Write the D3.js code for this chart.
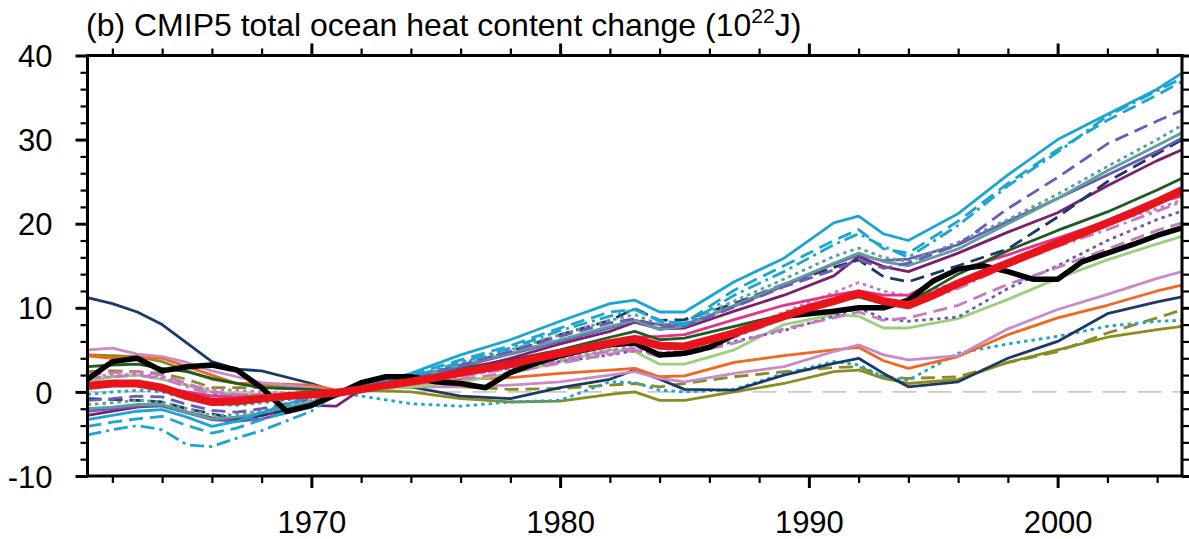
<!DOCTYPE html>
<html><head><meta charset="utf-8">
<script src="https://cdn.jsdelivr.net/npm/d3@7"></script>
<style>body{margin:0;background:#fff}svg{display:block}text{font-family:"Liberation Sans",Arial,Helvetica,sans-serif}</style>
</head><body><svg id="c" width="1189" height="539"></svg>
<script>
// ---------- data ----------
const titleText = "(b) CMIP5 total ocean heat content change (10";
const titleSup = "22";
const titleEnd = "J)";
const xMajorTicks = [1970, 1980, 1990, 2000];
const yMajorTicks = [-10, 0, 10, 20, 30, 40];

const modelYears = [1961,1962,1963,1964,1965,1966,1967,1968,1970,1971,1972,1974,1976,1978,1980,1982,1983,1984,1985,1987,1989,1991,1992,1993,1994,1996,1998,2000,2002,2004,2005];

const oliveSolid  = [4.4,4.3,4.2,3.6,2.5,1.5,1.0,0.8,0.5,0.0, 0.2,0.0,-0.8,-1.2,-1.1,-0.3,0.0,-1.0,-1.0,0.0,1.0,2.4,2.6,1.6,1.0,1.5,3.5,5.0,6.5,7.4,7.8];
const oliveDash   = [2.4,2.5,2.4,2.2,1.5,0.5,0.5,0.5,0.3,0.0, 0.3,1.0,0.6,0.3,0.4,0.8,1.0,0.6,1.0,1.8,2.4,2.9,3.0,1.8,1.6,1.8,3.5,4.8,7.0,8.8,9.75];
const cyanDot     = [-0.3,0.0,0.2,0.0,-0.8,-1.5,-1.6,-1.3,-0.6,0.0, -0.5,-1.4,-1.7,-1.2,-1.0,1.2,1.1,0.2,0.0,0.3,2.2,3.6,3.2,1.8,1.4,4.6,5.7,6.6,7.8,8.4,8.5];
const navySolid   = [11.2,10.5,9.5,8.0,5.8,3.6,2.7,2.5,1.0,0.0, 0.5,0.6,-0.5,-0.8,0.5,1.5,2.6,1.5,0.3,0.2,2.0,3.4,4.0,2.2,0.6,1.2,4.0,6.0,9.3,10.7,11.3];
const orange      = [4.3,4.0,4.1,4.0,3.0,2.0,1.0,1.0,0.8,0.2, 0.2,0.8,1.5,1.7,2.2,2.6,2.8,1.8,1.9,3.5,4.3,5.0,5.3,3.7,2.8,4.2,6.8,8.8,10.3,12.0,12.7];
const orchid      = [5.0,5.2,4.5,4.2,3.5,2.5,1.8,1.1,0.5,0.0, 0.2,0.6,0.6,0.8,1.2,2.0,2.4,1.6,1.2,2.2,3.0,4.8,5.6,4.4,3.8,4.3,7.5,9.8,11.6,13.5,14.3];
const lightGreen  = [1.2,1.8,2.0,1.5,0.8,0.0,-0.2,-0.3,-0.2,0.0, 0.3,0.6,1.2,2.2,3.6,5.0,4.8,3.3,3.3,5.0,8.0,9.2,9.0,7.6,7.6,8.7,11.0,13.5,15.7,17.6,18.5];
const slateDot    = [0.5,0.8,0.8,0.3,-0.3,-0.4,-0.4,-0.5,-0.3,0.0, 0.3,1.2,2.0,2.8,3.6,4.4,4.9,4.6,4.5,6.0,7.3,9.0,10.0,8.7,8.4,8.9,12.3,15.0,18.0,20.5,21.5];
const pinkDash    = [2.0,2.3,2.4,2.0,1.0,0.0,-0.3,-0.3,-0.2,0.0, 0.3,1.0,1.5,2.3,3.4,4.5,5.0,4.2,4.4,5.8,7.5,8.8,9.5,8.5,8.8,10.3,12.8,14.8,17.0,19.2,20.1];
const pinkDashDot = [1.6,1.8,2.0,1.6,0.6,-0.3,-0.5,-0.5,-0.3,0.0, 0.3,1.0,1.8,2.8,3.8,4.8,5.2,4.5,4.6,6.5,8.7,10.8,12.0,10.8,10.2,12.3,15.0,17.3,19.3,21.5,22.6];
const pinkDot     = [1.8,2.0,2.1,1.8,0.8,0.3,0.2,0.0,-0.2,0.0, 0.4,1.2,2.0,3.0,4.0,5.0,5.4,4.7,4.8,7.0,9.5,11.8,13.0,12.0,11.4,13.0,15.5,18.0,20.0,21.8,22.8];
const hotPink     = [0.5,0.8,1.0,0.5,0.0,-0.5,-0.6,-0.5,-0.3,0.0, 0.3,1.2,2.0,3.0,4.2,5.6,6.5,6.6,6.8,8.6,10.3,11.5,12.0,11.5,11.5,14.5,16.3,18.3,20.3,22.5,23.3];
const darkGreen   = [3.0,3.2,3.3,2.8,2.4,1.6,1.0,0.5,0.3,0.0, 0.7,2.0,2.8,3.8,5.0,6.5,7.2,6.2,6.4,7.8,9.2,10.7,11.3,10.5,10.6,14.0,16.8,19.2,21.4,24.0,25.4];
const darkMagenta = [-2.8,-2.3,-1.8,-1.6,-2.4,-3.1,-3.3,-2.8,-1.6,-1.7, 0.3,1.2,2.5,4.0,5.7,7.2,8.3,7.5,7.6,9.6,11.5,13.8,16.1,14.9,14.3,16.5,19.0,21.3,24.5,27.5,28.8];
const navyDash    = [-0.8,-0.9,-1.0,-1.2,-2.0,-2.6,-3.2,-2.8,-1.5,0.0, 0.0,1.3,3.0,4.8,6.8,8.5,9.9,8.5,8.6,10.5,12.8,14.8,15.7,13.7,13.1,15.0,17.0,20.8,25.0,28.3,30.0];
const slateSolid  = [-2.3,-2.0,-1.7,-1.7,-2.5,-3.3,-3.5,-3.2,-1.8,-0.5, 0.2,1.5,3.0,4.5,6.0,7.6,8.5,8.0,8.0,10.2,12.6,15.2,16.3,15.6,15.8,17.5,20.3,23.0,25.8,28.6,30.2];
const tealSolid   = [-2.0,-1.8,-1.5,-1.5,-2.4,-3.2,-3.0,-2.5,-1.2,0.0, 0.3,1.5,3.2,4.6,6.2,7.8,8.5,7.4,7.8,10.3,12.8,15.3,16.5,15.5,15.0,17.0,20.0,23.0,26.3,29.3,30.8];
const tealDot     = [-1.5,-1.3,-1.0,-1.2,-2.0,-2.8,-2.7,-2.2,-1.0,0.0, 0.3,1.6,3.4,5.0,6.8,8.5,9.2,8.0,8.2,10.8,13.4,16.1,17.1,16.0,15.5,17.8,20.5,23.5,26.8,30.0,31.7];
const slateDash   = [-1.0,-0.8,-0.5,-0.6,-1.5,-2.2,-2.4,-2.0,-0.8,0.0, 0.2,1.6,3.2,4.8,6.6,8.2,8.7,7.8,7.8,10.1,12.5,14.5,15.7,14.7,15.3,17.5,21.8,25.5,29.5,32.2,33.5];
const cyanDashDot = [-5.1,-4.5,-4.0,-4.5,-6.3,-6.5,-5.5,-4.6,-2.3,-0.2, 0.4,1.8,3.5,5.2,7.3,9.0,9.8,8.5,8.0,11.5,14.3,17.5,18.8,17.3,16.0,19.8,24.5,28.5,32.8,35.8,37.3];
const cyanDash    = [-4.1,-3.6,-3.2,-2.9,-4.0,-4.9,-4.3,-3.3,-1.5,0.0, 0.5,2.0,3.8,5.5,7.6,9.5,9.8,8.4,8.2,12.1,15.0,18.0,19.3,17.0,16.5,20.3,24.8,28.8,32.3,35.3,36.9];
const cyanSolid   = [-3.3,-2.8,-2.3,-2.1,-3.0,-4.1,-3.5,-2.5,-0.5,0.0, 0.6,2.2,4.4,6.2,8.4,10.5,10.9,9.5,9.5,13.1,15.9,20.1,20.9,18.8,18.0,21.2,25.8,30.0,33.0,36.0,37.9];

const annualYears = d3.range(1961, 2006);
const observed = [1.5,3.6,4.0,2.5,3.0,3.2,2.6,0.5,-2.3,-1.6,-0.3,1.1,1.8,1.8,1.2,1.0,0.5,2.3,3.4,4.3,5.0,5.6,5.8,4.4,4.6,5.3,6.8,8.0,9.0,9.3,9.6,10.0,10.0,10.9,13.2,14.6,15.0,14.3,13.4,13.4,15.5,16.5,17.5,18.6,19.5];
const modelMean = [0.7,1.0,1.0,0.5,-0.5,-1.2,-1.1,-0.8,-0.5,-0.3,-0.1,0.3,0.8,1.2,1.7,2.3,2.8,3.3,4.0,4.6,5.2,5.8,6.3,5.5,5.4,6.2,7.0,8.0,9.0,10.0,10.8,11.7,10.8,10.3,11.5,12.9,14.1,15.3,16.5,17.7,18.9,20.1,21.3,22.6,24.0];

// style lookup (not data)
const C = {cyan:"#1AA6D1", slate:"#6A5BB8", teal:"#5E9E9C", navy:"#1C3966", mag:"#7D1F6E", dgreen:"#1F5A25",
  hpink:"#E6318A", pink:"#C57BBF", orchid:"#C98AC8", lgreen:"#9CCF7D", orange:"#F2661E", olive:"#8A8C20"};
const DASH = "14,7", DASHDOT = "14,5,3,5", DOT = "3.5,4";
const models = [
  {v:oliveSolid, c:C.olive, d:null}, {v:oliveDash, c:C.olive, d:DASH},
  {v:cyanDot, c:C.cyan, d:DOT}, {v:navySolid, c:C.navy, d:null},
  {v:orange, c:C.orange, d:null}, {v:orchid, c:C.orchid, d:null},
  {v:lightGreen, c:C.lgreen, d:null}, {v:slateDot, c:C.slate, d:DOT},
  {v:pinkDash, c:C.pink, d:DASH}, {v:pinkDashDot, c:C.pink, d:DASHDOT},
  {v:pinkDot, c:C.pink, d:DOT}, {v:hotPink, c:C.hpink, d:null},
  {v:darkGreen, c:C.dgreen, d:null}, {v:darkMagenta, c:C.mag, d:null},
  {v:navyDash, c:C.navy, d:DASH}, {v:slateSolid, c:C.slate, d:null},
  {v:tealSolid, c:C.teal, d:null}, {v:tealDot, c:C.teal, d:DOT},
  {v:slateDash, c:C.slate, d:DASH}, {v:cyanDashDot, c:C.cyan, d:DASHDOT},
  {v:cyanDash, c:C.cyan, d:DASH}, {v:cyanSolid, c:C.cyan, d:null}
];

// ---------- chart ----------
const svg = d3.select("#c");
const L = 87.5, R = 1182, T = 55.5, B = 476;
const x = d3.scaleLinear().domain([1961, 2005]).range([L, R]);
const y = d3.scaleLinear().domain([-10, 40]).range([B, T]);

svg.append("defs").append("clipPath").attr("id","clip")
  .append("rect").attr("x",L).attr("y",T).attr("width",R-L).attr("height",B-T);

const plot = svg.append("g").attr("clip-path","url(#clip)");
plot.append("line").attr("x1",L).attr("x2",R).attr("y1",y(0)).attr("y2",y(0))
  .attr("stroke","#c9c9c9").attr("stroke-width",1.6).attr("stroke-dasharray","24,11");

const line = d3.line().x(d=>x(d[0])).y(d=>y(d[1]));
models.forEach(m=>{
  plot.append("path").datum(modelYears.map((yr,i)=>[yr,m.v[i]]))
    .attr("d",line).attr("fill","none").attr("stroke",m.c).attr("stroke-width",2.8)
    .attr("stroke-linejoin","round").attr("stroke-dasharray",m.d);
});
plot.append("path").datum(annualYears.map((yr,i)=>[yr,observed[i]]))
  .attr("d",line).attr("fill","none").attr("stroke","#000").attr("stroke-width",5.5).attr("stroke-linejoin","round");
plot.append("path").datum(annualYears.map((yr,i)=>[yr,modelMean[i]]))
  .attr("d",line).attr("fill","none").attr("stroke","#E8141C").attr("stroke-width",8).attr("stroke-linejoin","round");

// axes
const xMinor = d3.range(1962, 2005, 2).filter(v=>!xMajorTicks.includes(v));
const yMinor = d3.range(-10, 41, 2).filter(v=>!yMajorTicks.includes(v));
function styleAx(g){ g.select(".domain").remove(); g.selectAll("line").attr("stroke","#000").attr("stroke-width",2.2); }
function ax(gen, sc, ticks, size, tx, ty, labels){
  const g = svg.append("g").attr("transform",`translate(${tx},${ty})`)
    .call(gen(sc).tickValues(ticks).tickSize(size).tickFormat(labels ? (d=>String(d)) : ""));
  styleAx(g); return g;
}
// minor
ax(d3.axisBottom, x, xMinor, 7, 0, B, false);
ax(d3.axisTop, x, xMinor, 7, 0, T, false);
ax(d3.axisLeft, y, yMinor, 7, L, 0, false);
ax(d3.axisRight, y, yMinor, 7, R, 0, false);
// major
const gb = ax(d3.axisBottom, x, xMajorTicks, 12, 0, B, true);
gb.selectAll("line").attr("stroke-width",3);
gb.selectAll("text").attr("font-size",31).attr("fill","#000").attr("y",0).attr("dy",0)
  .attr("transform","translate(0,57)");
const gt = ax(d3.axisTop, x, xMajorTicks, 12, 0, T, false);
gt.selectAll("line").attr("stroke-width",3);
const gl = ax(d3.axisLeft, y, yMajorTicks, 12, L, 0, true);
gl.selectAll("line").attr("stroke-width",3);
gl.selectAll("text").attr("font-size",31).attr("fill","#000").attr("x",-35).attr("dy","0.36em");
const gr = ax(d3.axisRight, y, yMajorTicks, 12, R, 0, false);
gr.selectAll("line").attr("stroke-width",3);

// frame
svg.append("rect").attr("x",L).attr("y",T).attr("width",R-L).attr("height",B-T)
  .attr("fill","none").attr("stroke","#000").attr("stroke-width",3);

// title
const t = svg.append("text").attr("x",86).attr("y",36).attr("font-size",32).attr("fill","#000");
t.append("tspan").text(titleText);
t.append("tspan").attr("font-size",21).attr("dy",-13).text(titleSup);
t.append("tspan").attr("dy",13).text(titleEnd);
</script></body></html>
